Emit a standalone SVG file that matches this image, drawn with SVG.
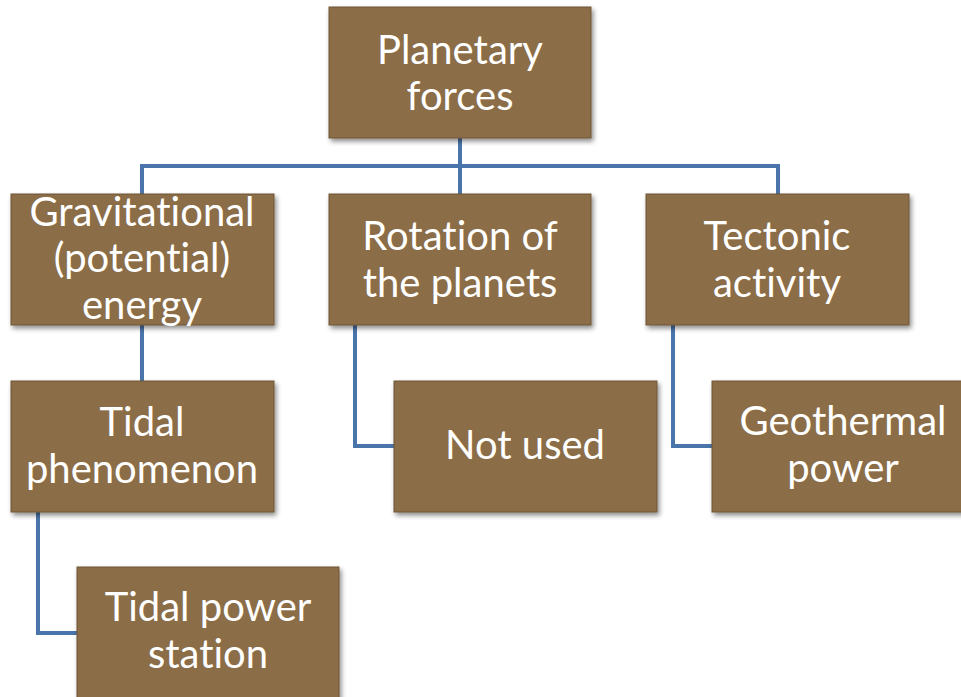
<svg xmlns="http://www.w3.org/2000/svg" width="961" height="697" viewBox="0 0 961 697">
<defs>
<filter id="sh" x="-10%" y="-10%" width="130%" height="130%">
<feGaussianBlur in="SourceAlpha" stdDeviation="2.5"/>
<feOffset dx="2" dy="3" result="b"/>
<feComponentTransfer><feFuncA type="linear" slope="0.45"/></feComponentTransfer>
<feMerge><feMergeNode/><feMergeNode in="SourceGraphic"/></feMerge>
</filter>
</defs>
<style>
.box{fill:#8b6d46;stroke:#6e5636;stroke-width:1;filter:url(#sh)}
.t{font-family:Lato,"Open Sans",sans-serif;font-size:40px;fill:#ffffff;text-anchor:middle;font-variant-ligatures:none;font-feature-settings:"liga" 0}
.c{fill:none;stroke:#4a75aa;stroke-width:4;stroke-linejoin:miter}
</style>
<rect width="961" height="697" fill="#ffffff"/>
<g id="connectors">
<path class="c" d="M460,138 V195"/>
<path class="c" d="M142,195 V166 H778 V195"/>
<path class="c" d="M142,325 V381"/>
<path class="c" d="M38,512 V633 H78"/>
<path class="c" d="M355,325 V446 H395"/>
<path class="c" d="M673,325 V446 H713"/>
</g>
<g id="n-planetary"><rect class="box" x="329" y="7" width="262" height="131"/><text class="t" x="460" y="64">Planetary</text><text class="t" x="460" y="110">forces</text></g>
<g id="n-gravitational"><rect class="box" x="11" y="194" width="263" height="131"/><text class="t" x="142" y="226">Gravitational</text><text class="t" x="142" y="272">(potential)</text><text class="t" x="142" y="319">energy</text></g>
<g id="n-rotation"><rect class="box" x="329" y="194" width="262" height="131"/><text class="t" x="460" y="250">Rotation of</text><text class="t" x="460" y="297">the planets</text></g>
<g id="n-tectonic"><rect class="box" x="646" y="194" width="263" height="131"/><text class="t" x="777" y="250">Tectonic</text><text class="t" x="777" y="297">activity</text></g>
<g id="n-tidal"><rect class="box" x="11" y="381" width="263" height="131"/><text class="t" x="142" y="436">Tidal</text><text class="t" x="142" y="483">phenomenon</text></g>
<g id="n-notused"><rect class="box" x="394" y="381" width="263" height="131"/><text class="t" x="525" y="459">Not used</text></g>
<g id="n-geothermal"><rect class="box" x="712" y="381" width="263" height="131"/><text class="t" x="843" y="435">Geothermal</text><text class="t" x="843" y="482">power</text></g>
<g id="n-tidalpower"><rect class="box" x="77" y="567" width="262" height="140"/><text class="t" x="208" y="621">Tidal power</text><text class="t" x="208" y="668">station</text></g>
</svg>
